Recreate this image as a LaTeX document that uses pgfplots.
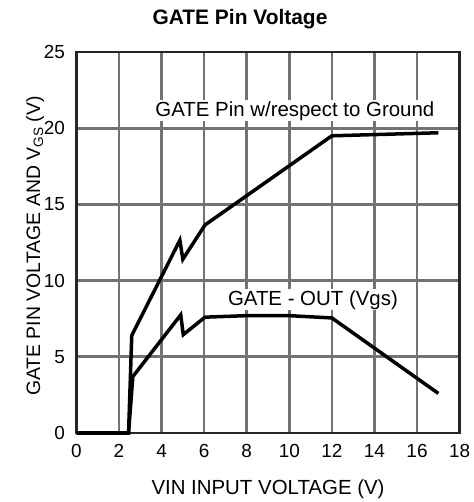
\documentclass[border=0pt]{standalone}
\usepackage{pgfplots}
\pgfplotsset{compat=1.18}
\usepackage{fontspec}
\setmainfont{Liberation Sans}
\begin{document}
\begin{tikzpicture}
\useasboundingbox (0,0) rectangle (474bp,502bp);
\begin{axis}[
  at={(76.4bp,69bp)}, anchor=south west,
  width=383.2bp, height=381bp, scale only axis,
  xmin=0, xmax=18, ymin=0, ymax=25,
  xtick={0,2,...,18}, ytick={0,5,...,25},
  grid=major,
  major grid style={black!55, line width=2.7bp},
  axis line style={black!85, line width=2.7bp},
  major tick length=0pt,
  tick label style={font=\fontsize{19}{21}\selectfont},
  /pgf/number format/assume math mode=true,
  xticklabel style={yshift=-8bp},
  yticklabel style={xshift=-8bp},
  clip=false,
]
\addplot[black, line width=3.5bp, line join=miter] coordinates {
  (0,0) (2.45,0) (2.6,6.4) (4.86,12.65) (5.0,11.4) (6.04,13.65) (12,19.5) (17,19.7)
};
\addplot[black, line width=3.5bp, line join=miter] coordinates {
  (2.45,0) (2.65,3.7) (4.9,7.75) (5.02,6.45) (6.04,7.6) (8,7.7) (10,7.7) (12,7.55) (17,2.6)
};
\node[fill=white, inner sep=1bp, anchor=base, font=\fontsize{20.5}{24}\selectfont] at (axis cs:10.26,20.79) {GATE Pin w/respect to Ground};
\node[fill=white, inner sep=1bp, anchor=base, font=\fontsize{20.5}{24}\selectfont] at (axis cs:11.11,8.39) {GATE - OUT (Vgs)};
\end{axis}
\node[anchor=base, font=\fontsize{21}{24}\selectfont\bfseries] at (240bp,477bp) {GATE Pin Voltage};
\node[anchor=base, font=\fontsize{20.5}{24}\selectfont] at (268bp,8bp) {VIN INPUT VOLTAGE (V)};
\node[anchor=base, rotate=90, font=\fontsize{19.5}{24}\selectfont] at (40bp,256bp) {GATE PIN VOLTAGE AND V\textsubscript{GS} (V)};
\end{tikzpicture}
\end{document}
